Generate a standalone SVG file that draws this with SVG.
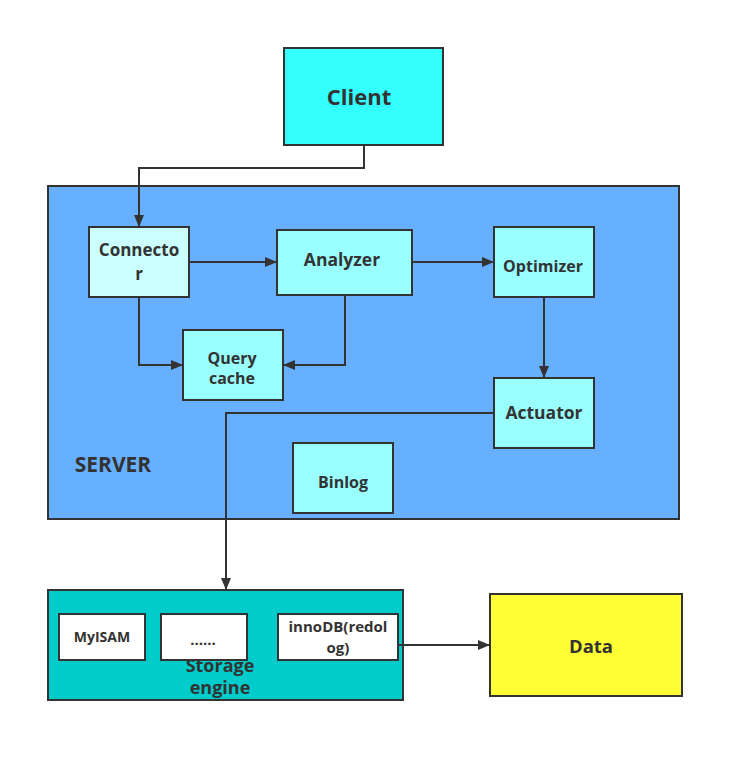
<svg xmlns="http://www.w3.org/2000/svg" width="743" height="763" viewBox="0 0 743 763">
<style>
.b{stroke:#333;stroke-width:2}
.t{font-family:"Open Sans","Noto Sans",sans-serif;font-weight:bold;fill:#333;text-anchor:middle}
.c{fill:none;stroke:#333;stroke-width:2}
</style>
<defs>
<marker id="a" viewBox="0 0 12 10" refX="12" refY="5" markerWidth="12" markerHeight="10" markerUnits="userSpaceOnUse" orient="auto">
<path d="M0,0 L12,5 L0,10 Z" fill="#333"/>
</marker>
</defs>
<rect width="743" height="763" fill="#fff"/>
<g id="client"><rect class="b" x="284" y="48" width="159" height="97" fill="#33FFFF"/><text class="t" x="359" y="105" font-size="22">Client</text></g>
<g id="server"><rect class="b" x="48" y="186" width="631" height="333" fill="#66B0FF"/><text class="t" x="113" y="472" font-size="21">SERVER</text></g>
<g id="connector"><rect class="b" x="89" y="227" width="100" height="70" fill="#CCFFFF"/><text class="t" x="139" y="256" font-size="17">Connecto</text><text class="t" x="139" y="280" font-size="17">r</text></g>
<g id="analyzer"><rect class="b" x="277" y="230" width="135" height="65" fill="#99FFFF"/><text class="t" x="342" y="266" font-size="17.5">Analyzer</text></g>
<g id="optimizer"><rect class="b" x="494" y="227" width="100" height="70" fill="#99FFFF"/><text class="t" x="543" y="272" font-size="16">Optimizer</text></g>
<g id="querycache"><rect class="b" x="183" y="330" width="100" height="70" fill="#99FFFF"/><text class="t" x="232" y="364" font-size="16">Query</text><text class="t" x="232" y="384" font-size="16">cache</text></g>
<g id="actuator"><rect class="b" x="494" y="378" width="100" height="70" fill="#99FFFF"/><text class="t" x="544" y="419" font-size="17.5">Actuator</text></g>
<g id="binlog"><rect class="b" x="293" y="443" width="100" height="70" fill="#99FFFF"/><text class="t" x="343" y="488" font-size="16">Binlog</text></g>
<g id="storage"><rect class="b" x="48" y="590" width="355" height="110" fill="#00CCCC"/><text class="t" x="220" y="672" font-size="18">Storage</text><text class="t" x="220" y="694" font-size="18">engine</text></g>
<g id="myisam"><rect class="b" x="59" y="614" width="86" height="46" fill="#fff"/><text class="t" x="102" y="642" font-size="14">MyISAM</text></g>
<g id="etc"><rect class="b" x="161" y="614" width="86" height="46" fill="#fff"/><text class="t" x="203" y="645" font-size="15">......</text></g>
<g id="innodb"><rect class="b" x="278" y="614" width="120" height="46" fill="#fff"/><text class="t" x="338" y="632" font-size="15">innoDB(redol</text><text class="t" x="338" y="653" font-size="15">og)</text></g>
<g id="data"><rect class="b" x="490" y="594" width="192" height="102" fill="#FFFF33"/><text class="t" x="591" y="653" font-size="18.5">Data</text></g>
<g id="connectors">
<path class="c" d="M364,145 V168 H139 V227" marker-end="url(#a)"/>
<path class="c" d="M189,262 H277" marker-end="url(#a)"/>
<path class="c" d="M412,262 H494" marker-end="url(#a)"/>
<path class="c" d="M139,297 V365 H183" marker-end="url(#a)"/>
<path class="c" d="M345,295 V365 H283" marker-end="url(#a)"/>
<path class="c" d="M544,297 V378" marker-end="url(#a)"/>
<path class="c" d="M494,413 H226 V590" marker-end="url(#a)"/>
<path class="c" d="M398,645 H490" marker-end="url(#a)"/>
</g>
</svg>
